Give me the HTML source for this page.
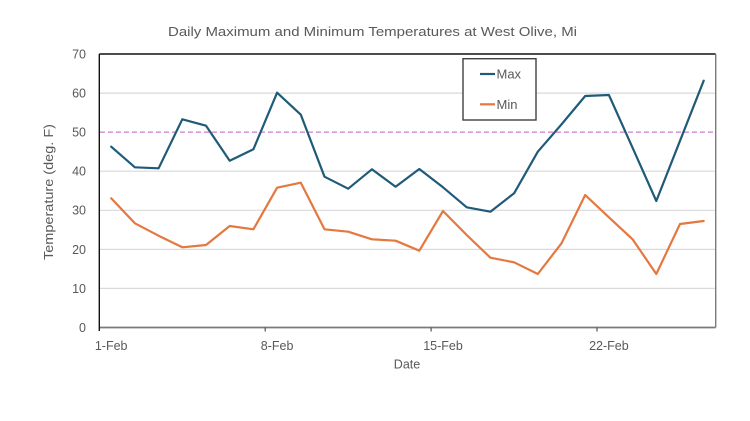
<!DOCTYPE html>
<html>
<head>
<meta charset="utf-8">
<style>
html,body{margin:0;padding:0;background:#fff;}
svg{display:block;}
text{font-family:"Liberation Sans",Arial,sans-serif;fill:#595959;}
</style>
</head>
<body>
<svg width="750" height="421" viewBox="0 0 750 421" xmlns="http://www.w3.org/2000/svg">
<rect x="0" y="0" width="750" height="421" fill="#fff"/>
<text x="372.5" y="36" font-size="13" text-anchor="middle" textLength="409" lengthAdjust="spacingAndGlyphs">Daily Maximum and Minimum Temperatures at West Olive, Mi</text>

<!-- gridlines -->
<g stroke="#d9d9d9" stroke-width="1.2">
<line x1="100" y1="288.4" x2="715" y2="288.4"/>
<line x1="100" y1="249.4" x2="715" y2="249.4"/>
<line x1="100" y1="210.3" x2="715" y2="210.3"/>
<line x1="100" y1="171.2" x2="715" y2="171.2"/>
<line x1="100" y1="93.1" x2="715" y2="93.1"/>
</g>
<!-- 50F dashed line -->
<line x1="100" y1="132.2" x2="715" y2="132.2" stroke="#d89ad8" stroke-width="1.6" stroke-dasharray="5,3"/>

<!-- plot border -->
<line x1="99.3" y1="54" x2="715.7" y2="54" stroke="#111" stroke-width="1.4"/>
<line x1="715.7" y1="54" x2="715.7" y2="327.5" stroke="#7a7a7a" stroke-width="1.4"/>
<line x1="99.3" y1="327.5" x2="715.7" y2="327.5" stroke="#7a7a7a" stroke-width="1.8"/>
<line x1="99.3" y1="54" x2="99.3" y2="331" stroke="#111" stroke-width="1.4"/>
<g stroke="#555" stroke-width="1.2">
<line x1="265.2" y1="327.5" x2="265.2" y2="331.5"/>
<line x1="431.1" y1="327.5" x2="431.1" y2="331.5"/>
<line x1="597" y1="327.5" x2="597" y2="331.5"/>
</g>

<!-- y tick labels -->
<g font-size="12.5" text-anchor="end">
<text x="86" y="58.5">70</text>
<text x="86" y="97.5">60</text>
<text x="86" y="136.5">50</text>
<text x="86" y="175.6">40</text>
<text x="86" y="214.7">30</text>
<text x="86" y="253.8">20</text>
<text x="86" y="292.8">10</text>
<text x="86" y="331.9">0</text>
</g>
<text transform="translate(53,192) rotate(-90)" font-size="13" text-anchor="middle" textLength="136" lengthAdjust="spacingAndGlyphs">Temperature (deg. F)</text>

<!-- x labels -->
<g font-size="12.5" text-anchor="middle">
<text x="111.2" y="350">1-Feb</text>
<text x="277.1" y="350">8-Feb</text>
<text x="443" y="350">15-Feb</text>
<text x="608.9" y="350">22-Feb</text>
</g>
<text x="407" y="368.5" font-size="12.5" text-anchor="middle">Date</text>

<!-- series -->
<polyline fill="none" stroke="#1f5b78" stroke-width="2.2" stroke-linejoin="round" stroke-linecap="round"
points="111.2,146.7 134.9,167.3 158.6,168.3 182.3,119.3 206,125.7 229.7,160.7 253.4,149.3 277.1,92.7 300.8,114.7 324.5,176.7 348.2,188.7 371.9,169.3 395.6,186.7 419.3,169 443,187.3 466.7,207.3 490.4,211.7 514.1,193.3 537.8,151.7 561.5,124.4 585.2,96 608.9,95 632.6,147.8 656.3,201 680,140.8 703.7,80.7"/>
<polyline fill="none" stroke="#e4783f" stroke-width="2.2" stroke-linejoin="round" stroke-linecap="round"
points="111.2,198.3 134.9,223.3 158.6,235.7 182.3,247.3 206,245 229.7,226 253.4,229.3 277.1,187.7 300.8,182.7 324.5,229.3 348.2,231.7 371.9,239.3 395.6,240.7 419.3,250.7 443,211 466.7,235 490.4,257.7 514.1,262.3 537.8,274 561.5,243.3 585.2,195 608.9,217.3 632.6,239.3 656.3,274 680,224 703.7,221"/>

<!-- legend -->
<rect x="463" y="58.7" width="73" height="61.3" fill="#fff" stroke="#404040" stroke-width="1.4"/>
<line x1="480" y1="74" x2="495" y2="74" stroke="#1f5b78" stroke-width="2.2"/>
<text x="496.5" y="78.5" font-size="13">Max</text>
<line x1="480" y1="104.3" x2="495" y2="104.3" stroke="#e4783f" stroke-width="2.2"/>
<text x="496.5" y="108.8" font-size="13">Min</text>
</svg>
</body>
</html>
